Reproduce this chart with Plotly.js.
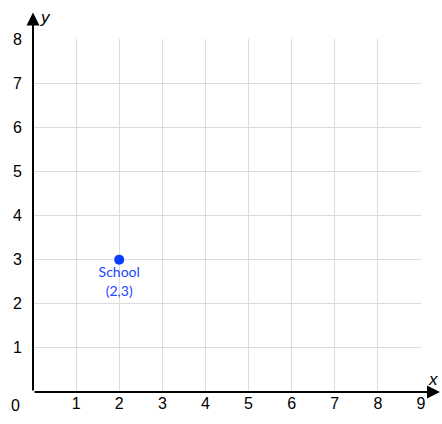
<!DOCTYPE html>
<html>
<head>
<meta charset="utf-8">
<script src="https://cdn.plot.ly/plotly-3.0.1.min.js"></script>
<style>html,body{margin:0;padding:0;background:#fff;}#chart{width:442px;height:424px;}</style>
</head>
<body>
<div id="chart"></div>
<script>
var xTicks = [1, 2, 3, 4, 5, 6, 7, 8, 9];
var yTicks = [1, 2, 3, 4, 5, 6, 7, 8];
var pointX = [2];
var pointY = [3];
var pointLabels = ["School<br>(2,3)"];

var tickFont = {family: "Liberation Sans, Arial, sans-serif", size: 16, color: "#000"};
var axisTitleFont = {family: "Liberation Sans, Arial, sans-serif", size: 17, color: "#000"};

var trace = {
  type: "scatter",
  mode: "markers+text",
  x: pointX,
  y: pointY,
  text: pointLabels,
  textposition: "bottom center",
  textfont: {family: "Lato, Open Sans, sans-serif", size: 14, color: "#1a47ff"},
  marker: {size: 10, color: "#0a3cff"},
  cliponaxis: false,
  hoverinfo: "none"
};

var layout = {
  width: 442,
  height: 424,
  margin: {l: 33, r: 21, t: 39, b: 32},
  paper_bgcolor: "#fff",
  plot_bgcolor: "#fff",
  showlegend: false,
  xaxis: {
    range: [0, 9],
    tickvals: xTicks,
    ticktext: xTicks.map(String),
    showgrid: true,
    gridcolor: "#dcdcdc",
    gridwidth: 1,
    zeroline: false,
    showline: false,
    ticks: "",
    tickfont: tickFont,
    fixedrange: true
  },
  yaxis: {
    range: [0, 8],
    tickvals: yTicks,
    ticktext: yTicks.map(String),
    showgrid: true,
    gridcolor: "#dcdcdc",
    gridwidth: 1,
    zeroline: false,
    showline: false,
    ticks: "outside",
    ticklen: 7,
    tickcolor: "rgba(0,0,0,0)",
    tickfont: tickFont,
    fixedrange: true
  },
  annotations: [
    {x: 9.44, y: 0, ax: 0, ay: 0, xref: "x", yref: "y", axref: "x", ayref: "y",
     showarrow: true, arrowhead: 2, arrowsize: 1.3, arrowwidth: 2, arrowcolor: "#000", text: ""},
    {x: 0, y: 8.6, ax: 0, ay: 0, xref: "x", yref: "y", axref: "x", ayref: "y",
     showarrow: true, arrowhead: 2, arrowsize: 1.3, arrowwidth: 2, arrowcolor: "#000", text: ""},
    {x: 1.031, y: 0.036, xref: "paper", yref: "paper", xanchor: "center", yanchor: "middle",
     text: "<i>x</i>", showarrow: false, font: axisTitleFont},
    {x: 0.032, y: 1.062, xref: "paper", yref: "paper", xanchor: "center", yanchor: "middle",
     text: "<i>y</i>", showarrow: false, font: axisTitleFont},
    {x: -0.044, y: -0.037, xref: "paper", yref: "paper", xanchor: "center", yanchor: "middle",
     text: "0", showarrow: false, font: tickFont}
  ]
};

Plotly.newPlot("chart", [trace], layout, {displayModeBar: false, staticPlot: true});
</script>
</body>
</html>
